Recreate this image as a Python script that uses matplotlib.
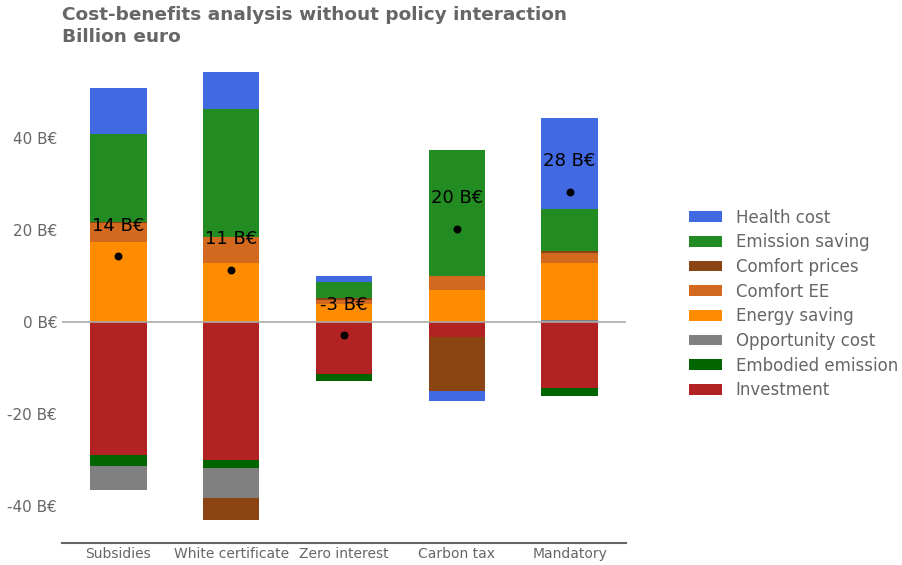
import numpy as np
import matplotlib
matplotlib.use("Agg")
import matplotlib.pyplot as plt

policies = ["Subsidies", "White certificate", "Zero interest", "Carbon tax", "Mandatory"]

# series in stacking order (billion euro)
investment = [-28.9, -30.0, -11.4, -3.3, -14.3]
embodied_emission = [-2.5, -1.7, -1.5, 0.0, -1.8]
opportunity_cost = [-5.2, -6.6, 0.0, 0.0, 0.5]
energy_saving = [17.3, 12.8, 3.9, 7.0, 12.4]
comfort_ee = [4.2, 5.7, 0.9, 3.1, 2.0]
comfort_prices = [0.3, -4.7, 0.4, -11.7, 0.5]
emission_saving = [19.0, 27.8, 3.4, 27.3, 9.2]
health_cost = [10.1, 8.1, 1.4, -2.1, 19.8]

series_names = ["Investment", "Embodied emission", "Opportunity cost", "Energy saving",
                "Comfort EE", "Comfort prices", "Emission saving", "Health cost"]
series_values = [investment, embodied_emission, opportunity_cost, energy_saving,
                 comfort_ee, comfort_prices, emission_saving, health_cost]
colors = ["firebrick", "darkgreen", "grey", "darkorange", "chocolate",
          "saddlebrown", "forestgreen", "royalblue"]

fig = plt.figure(figsize=(9.02, 5.65), dpi=100)
W, H = 902, 565
ax = fig.add_axes([62 / W, 1 - 543 / H, (626 - 62) / W, (543 - 60) / H])

x = np.arange(len(policies))
pos_bottom = np.zeros(len(policies))
neg_bottom = np.zeros(len(policies))
handles = []
for name, vals, c in zip(series_names, series_values, colors):
    v = np.array(vals, dtype=float)
    bottom = np.where(v >= 0, pos_bottom, neg_bottom)
    b = ax.bar(x, v, 0.5, bottom=bottom, color=c, label=name, linewidth=0)
    handles.append(b)
    pos_bottom = pos_bottom + np.where(v >= 0, v, 0)
    neg_bottom = neg_bottom + np.where(v < 0, v, 0)

net = np.sum(np.array(series_values), axis=0)
ax.scatter(x, net, color="black", s=22, zorder=5)
for xi, n in zip(x, net):
    ax.annotate(f"{n:.0f} B€", (xi, n), xytext=(0, 22), textcoords="offset points",
                ha="center", va="center", fontsize=13, color="black", zorder=6)

ax.axhline(0, color="#aaaaaa", linewidth=1.2, zorder=4)
ax.set_xlim(-0.5, 4.5)
ax.set_ylim(-48.04, 56.96)
ax.set_xticks(x)
ax.set_xticklabels(policies, fontsize=10, color="#666666")
ax.set_yticks([-40, -20, 0, 20, 40])
ax.set_yticklabels([f"{t} B€" for t in [-40, -20, 0, 20, 40]], fontsize=11, color="#666666")
ax.tick_params(axis="x", length=0, pad=3)
ax.tick_params(axis="y", length=0, pad=3.5)
for s in ["top", "right", "left"]:
    ax.spines[s].set_visible(False)
ax.spines["bottom"].set_color("#666666")
ax.spines["bottom"].set_linewidth(1.5)

leg = ax.legend(handles[::-1], series_names[::-1], loc="center left",
                bbox_to_anchor=(1.085, 0.495), frameon=False, fontsize=12,
                handlelength=2.0, handleheight=0.6, handletextpad=0.8,
                labelcolor="#666666", labelspacing=0.40)

fig.text(62 / W, 1 - 6 / H, "Cost-benefits analysis without policy interaction\nBillion euro",
         ha="left", va="top", fontsize=13.3, fontweight="bold", color="#666666",
         linespacing=1.25)

fig.savefig("out.png", dpi=100)
